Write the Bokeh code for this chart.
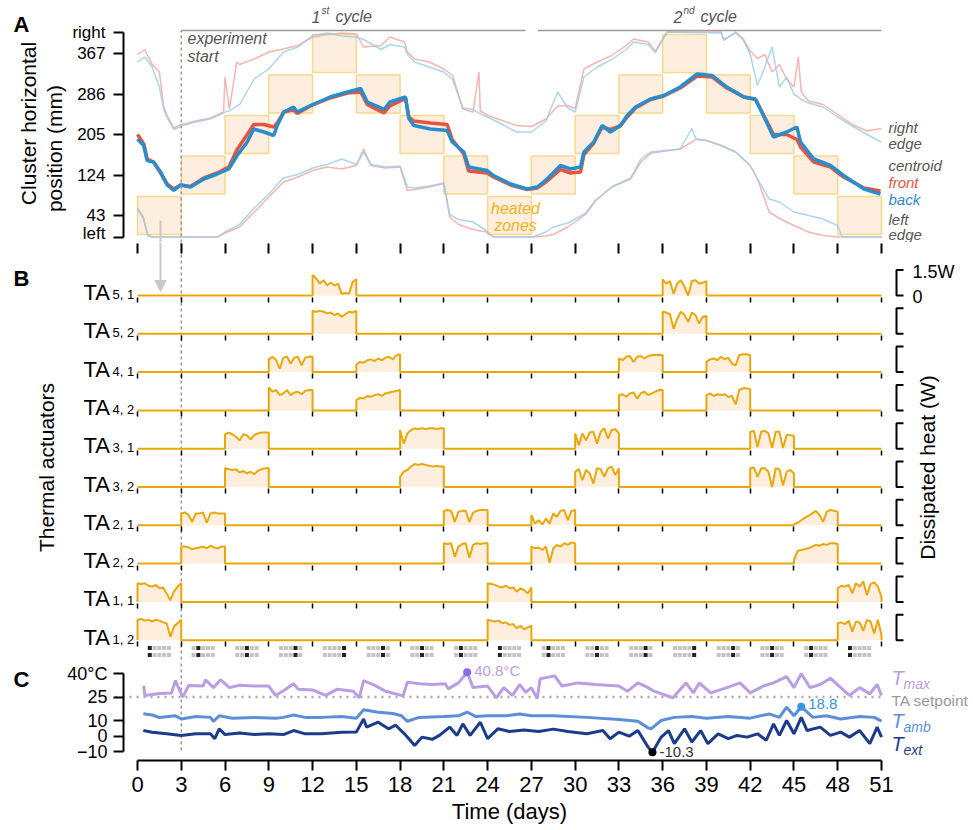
import numpy as np
from bokeh.plotting import figure
from bokeh.layouts import column
from bokeh.models import Range1d, Label, Arrow, NormalHead, FixedTicker, LinearAxis
from bokeh.embed import file_html
from bokeh.resources import INLINE

FONT = "Liberation Sans"

# ---------------------------------------------------------------- data
DAY_TICKS = list(range(0, 52, 3))
EXPERIMENT_START = 3
CYCLE_NUM = ["1", "2"]
CYCLE_SUFFIX = ["st", "nd"]
CYCLE_START = [3, 27.45]
CYCLE_END = [26.6, 51]
CYCLE_LEVEL = 413

# heated zone / active thermal actuator per 3-day interval
INTERVAL_START = list(range(0, 51, 3))
ACTIVE_TA = [1, 2, 3, 4, 5, 4, 3, 2, 1, 2, 3, 4, 5, 4, 3, 2, 1]

# Panel A
POS_TICKS = [0, 43, 124, 205, 286, 367, 410]
POS_TICK_LABELS = ["left", "43", "124", "205", "286", "367", "right"]
ZONE_CENTER = [43, 124, 205, 286, 367]
ZONE_HALF = 38

CEN_DAY = [0, 0.43, 0.66, 1.1, 1.58, 2.03, 2.49, 2.95, 3.63, 4.55, 5.46, 6.26, 6.83, 7.52, 7.97,
           8.66, 9.34, 9.58, 10.03, 10.7, 10.95, 11.86, 13.2, 14.4, 15.3, 15.75, 16.4, 16.9, 17.3,
           18.37, 18.6, 18.94, 20.08, 21.23, 21.57, 22.37, 22.7, 23.97, 24.4, 25.57, 26.71, 27.4,
           28.08, 28.99, 29.68, 30.37, 30.6, 31.28, 31.85, 32.42, 33.1, 33.57, 34.14, 35.17, 36.08,
           37.2, 38.37, 39.4, 40.4, 41.56, 42.36, 42.9, 43.6, 44.5, 45.2, 45.45, 46.36, 47.5, 48.4,
           49.8, 50.93]
CEN_BACK = [196, 183, 153, 150, 130, 104, 93, 104, 100, 116, 126, 136, 163, 190, 216,
            210, 203, 223, 250, 260, 250, 263, 280, 290, 297, 270, 262, 255, 270,
            280, 237, 223, 216, 213, 190, 170, 140, 133, 123, 106, 96, 100,
            116, 143, 136, 140, 170, 190, 223, 210, 223, 243, 260, 276, 283,
            300, 326, 323, 300, 280, 276, 243, 200, 210, 220, 190, 156, 143, 123,
            96, 86]
CEN_FRONT = [205, 186, 156, 150, 128, 106, 96, 104, 101, 118, 128, 140, 175, 205, 225,
             225, 220, 228, 250, 255, 247, 262, 278, 288, 290, 265, 255, 248, 262,
             277, 240, 232, 228, 225, 195, 166, 132, 128, 120, 104, 95, 98,
             112, 135, 128, 130, 165, 188, 220, 215, 222, 240, 258, 275, 282,
             298, 322, 320, 298, 280, 275, 245, 205, 205, 195, 180, 150, 140, 120,
             98, 92]

RE_DAY = [0, 0.5, 1.0, 1.5, 1.8, 2.0, 2.5, 3.0, 4.0, 5.0, 5.9, 6.0, 6.3, 6.8, 7.0, 8.0, 9.0,
          10.0, 11.0, 12.0, 13.0, 14.0, 15.0, 15.5, 16.7, 17.3, 18.3, 18.5, 19.0, 20.0, 21.0,
          21.6, 22.3, 23.0, 23.4, 23.5, 24.0, 25.0, 26.0, 27.0, 28.0, 28.8, 29.5, 30.0, 30.6,
          31.5, 32.5, 33.5, 34.0, 35.0, 35.5, 36.0, 36.3, 40.0, 40.2, 41.0, 41.5, 42.0, 42.5,
          43.0, 43.5, 44.0, 44.5, 45.0, 45.3, 45.5, 46.0, 47.0, 48.0, 49.0, 50.0, 51.0]
RE_FRONT = [365, 375, 345, 330, 260, 245, 218, 225, 232, 238, 250, 320, 255, 350, 345, 356, 370,
            376, 383, 400, 405, 408, 406, 380, 383, 400, 390, 370, 356, 350, 336,
            323, 256, 250, 330, 252, 243, 233, 223, 221, 236, 262, 263, 257, 336,
            350, 363, 383, 396, 390, 372, 396, 410, 410, 393, 410, 397, 372, 357,
            365, 330, 345, 316, 300, 360, 290, 272, 265, 245, 225, 212, 217]
RE_BACK = [350, 360, 340, 300, 255, 240, 215, 222, 230, 236, 248, 250, 252, 262, 265, 316, 336,
           370, 380, 403, 408, 402, 400, 395, 375, 385, 380, 365, 350, 340, 330,
           315, 258, 255, 248, 246, 240, 225, 210, 210, 232, 290, 258, 250, 320,
           340, 355, 375, 390, 385, 368, 395, 410, 408, 395, 408, 395, 365, 303,
           340, 380, 300, 320, 285, 280, 275, 268, 260, 240, 222, 205, 190]

LE_DAY = [0, 0.4, 0.7, 1.0, 5.5, 6.0, 7.0, 8.0, 9.0, 10.0, 11.0, 12.0, 13.0, 14.0, 15.0, 15.5,
          16.0, 17.0, 18.0, 18.5, 19.0, 20.0, 21.0, 21.4, 22.0, 23.0, 23.9, 24.4, 27.1, 28.0,
          28.5, 29.5, 30.7, 31.4, 32.5, 33.8, 34.5, 35.2, 36.2, 37.2, 38.0, 38.3, 39.0, 40.0,
          41.0, 42.0, 42.5, 43.3, 44.0, 45.0, 46.0, 47.0, 48.0, 48.3, 51.0]
LE_FRONT = [58, 40, 3, 0, 0, 8, 20, 50, 80, 110, 120, 133, 140, 136, 143, 176,
            143, 138, 140, 93, 95, 100, 107, 40, 25, 15, 10, 0, 0, 2,
            5, 20, 45, 73, 100, 116, 150, 168, 172, 176, 190, 196, 193, 183,
            170, 143, 116, 50, 37, 23, 10, 3, 0, 0, 0]
LE_BACK = [56, 37, 5, 0, 0, 10, 25, 58, 86, 118, 125, 138, 145, 156, 145, 170,
           145, 140, 142, 100, 98, 102, 108, 45, 35, 30, 13, 0, 0, 10,
           20, 28, 47, 73, 100, 118, 156, 170, 173, 176, 217, 195, 193, 183,
           170, 143, 116, 76, 70, 50, 43, 36, 23, 0, 0]

# Panel B : thermal actuators, power (W) sampled every 0.25 day over each 3-day heating period
TA_NAMES = [("5", "1"), ("5", "2"), ("4", "1"), ("4", "2"), ("3", "1"),
            ("3", "2"), ("2", "1"), ("2", "2"), ("1", "1"), ("1", "2")]
PERIOD_STEP = 0.25
POWER = [
    {12: [1.2, 1.0, 0.7, 0.9, 0.6, 0.75, 0.6, 0.7, 0.1, 0.15, 0.1, 0.8, 0.95],
     36: [0.95, 0.7, 0.85, 0.1, 0.7, 0.9, 0.5, 0.0, 0.85, 0.9, 0.7, 0.75, 0.85]},
    {12: [1.35, 1.3, 1.35, 1.3, 1.2, 1.25, 1.1, 1.2, 1.0, 1.15, 1.3, 1.25, 1.35],
     36: [1.3, 1.25, 1.15, 0.3, 0.9, 1.3, 1.1, 0.7, 1.25, 1.1, 0.6, 1.0, 1.05]},
    {9: [0.75, 0.9, 0.7, 0.2, 0.85, 0.9, 0.5, 0.85, 0.9, 0.4, 0.85, 0.9, 0.9],
     15: [0.45, 0.6, 0.55, 0.7, 0.75, 0.65, 0.8, 0.7, 0.85, 0.9, 0.75, 1.0, 1.05],
     33: [0.8, 0.7, 0.9, 0.95, 0.6, 0.9, 0.95, 0.8, 0.95, 1.0, 1.0, 1.0, 1.0],
     39: [0.6, 0.75, 0.8, 0.7, 0.9, 0.75, 0.85, 0.5, 0.4, 1.0, 1.05, 1.05, 1.0]},
    {9: [1.35, 1.1, 1.2, 0.9, 1.0, 1.2, 0.9, 1.05, 1.1, 0.95, 1.15, 1.2, 1.2],
     15: [0.6, 0.75, 0.7, 0.85, 0.8, 0.9, 0.95, 0.85, 1.0, 1.05, 1.1, 1.15, 1.2],
     33: [0.9, 0.95, 0.8, 1.0, 1.05, 0.7, 1.0, 1.1, 0.9, 1.0, 1.1, 1.2, 1.2],
     39: [0.9, 1.0, 0.85, 0.95, 0.9, 0.95, 0.8, 0.85, 0.35, 1.2, 1.3, 1.3, 1.25]},
    {6: [0.85, 0.95, 0.85, 0.7, 0.5, 0.85, 0.8, 0.55, 0.8, 0.9, 0.95, 0.95, 0.95],
     18: [1.1, 0.3, 0.9, 1.1, 1.2, 1.15, 1.2, 1.15, 1.2, 1.2, 1.15, 1.2, 1.2],
     30: [0.9, 0.2, 0.9, 0.5, 0.95, 1.0, 0.3, 1.0, 1.2, 0.6, 1.1, 1.15, 0.9],
     42: [1.0, 1.05, 0.1, 1.0, 1.05, 0.9, 0.05, 1.0, 1.0, 0.05, 0.8, 0.8, 0.75]},
    {6: [1.1, 1.05, 1.0, 1.05, 0.85, 0.95, 0.8, 0.9, 0.75, 0.95, 1.05, 1.1, 1.1],
     18: [0.6, 0.9, 1.0, 1.2, 1.35, 1.3, 1.35, 1.3, 1.25, 1.2, 1.25, 1.2, 1.2],
     30: [0.9, 1.05, 0.4, 1.0, 0.8, 0.2, 1.1, 1.05, 0.6, 1.1, 1.2, 0.7, 1.1],
     42: [1.1, 1.15, 0.6, 1.1, 1.1, 0.9, 0.0, 1.1, 1.05, 0.1, 0.9, 1.0, 0.8]},
    {3: [0.7, 0.75, 0.6, 0.2, 0.7, 0.7, 0.75, 0.15, 0.7, 0.75, 0.7, 0.7, 0.7],
     21: [0.85, 0.9, 0.85, 0.2, 0.8, 0.85, 0.85, 0.2, 0.75, 0.85, 0.9, 0.9, 0.9],
     27: [0.6, 0.1, 0.3, 0.05, 0.4, 0.1, 0.7, 0.5, 0.85, 0.9, 0.3, 0.85, 0.9],
     45: [0.05, 0.15, 0.3, 0.45, 0.55, 0.7, 0.85, 0.6, 0.2, 0.8, 0.9, 0.85, 0.8]},
    {3: [1.0, 1.0, 0.95, 0.85, 0.9, 0.95, 1.0, 0.9, 1.05, 0.95, 0.9, 1.0, 1.0],
     21: [1.2, 1.15, 1.2, 0.4, 1.0, 1.15, 1.2, 0.35, 1.1, 1.2, 1.15, 1.2, 1.2],
     27: [1.0, 0.9, 0.95, 0.8, 1.0, 0.05, 0.9, 1.1, 1.0, 1.2, 1.1, 1.25, 1.2],
     45: [0.2, 0.75, 0.8, 0.85, 0.9, 1.0, 1.1, 1.05, 1.15, 1.1, 1.2, 1.2, 1.15]},
    {0: [1.1, 1.05, 1.1, 0.95, 0.9, 1.0, 0.8, 0.85, 0.5, 0.1, 0.6, 0.9, 1.1],
     24: [1.1, 1.05, 1.0, 0.9, 0.85, 0.95, 0.8, 0.85, 0.6, 0.8, 0.7, 0.5, 0.85],
     48: [0.8, 0.95, 0.9, 1.0, 0.5, 1.1, 0.9, 1.2, 0.4, 1.05, 1.15, 0.9, 0.3]},
    {0: [1.2, 1.25, 1.15, 1.2, 1.1, 1.2, 1.15, 1.05, 1.0, 0.2, 0.8, 1.0, 1.2],
     24: [1.2, 1.15, 1.1, 1.15, 1.0, 1.05, 0.9, 0.95, 0.7, 0.85, 0.65, 0.75, 0.85],
     48: [1.0, 1.05, 0.95, 1.15, 0.5, 1.1, 1.05, 0.55, 1.2, 1.1, 0.4, 1.2, 0.3]},
]
SCALE_W = 1.5

# Panel C : temperatures (deg C)
T_TICKS = [-10, 0, 10, 25, 40]
SETPOINT = 25
TMAX_DAY = [0.43, 0.5, 1.5, 2.33, 2.6, 3.1, 3.5, 4.5, 4.66, 5.2, 5.7, 6.3, 7.0, 8.0, 9.0, 9.46,
            10.0, 10.7, 11.0, 12.0, 12.9, 13.7, 14.8, 15.2, 15.5, 16.3, 17.0, 18.2, 18.5, 19.3,
            20.2, 21.1, 21.3, 22.0, 22.6, 23.0, 24.0, 24.6, 25.1, 25.7, 26.2, 26.6, 27.0, 27.4,
            27.6, 28.6, 29.1, 30.2, 31.4, 33.0, 33.6, 34.3, 35.0, 35.4, 36.7, 37.6, 38.1, 38.5,
            39.3, 40.4, 41.3, 42.0, 42.9, 43.6, 44.5, 45.0, 45.5, 46.1, 46.8, 47.5, 48.2, 48.8,
            49.5, 50.2, 50.7, 51.0]
TMAX = [32.3, 26, 27.2, 27.5, 35.5, 24.9, 32.3, 32, 36, 31, 36, 31, 32.5, 32, 32, 26,
        29, 33.5, 30, 29.5, 26, 30, 28.7, 24.5, 35.5, 32.3, 28.7, 25.7, 34.5, 33.4,
        33, 33.4, 30.2, 34, 40.8, 31, 32, 24.5, 31, 26, 33, 28, 31, 24,
        36.6, 38.5, 32, 34, 33, 32, 28.7, 34, 31, 28.7, 24.5, 34, 27.6, 34,
        27.6, 31, 34, 27.6, 32, 34, 38, 31, 40, 31, 33, 37, 31, 26,
        31, 27, 33, 26]
TAMB_DAY = [0.4, 1.0, 1.5, 2.6, 3.0, 4.0, 5.0, 5.2, 5.6, 6.5, 8.0, 9.5, 10.0, 10.7, 11.5, 12.6,
            14.0, 15.0, 15.5, 16.5, 17.5, 18.1, 18.5, 19.3, 21.0, 22.0, 22.6, 23.2, 24.0, 25.3,
            26.2, 27.0, 28.5, 30.8, 33.0, 34.3, 35.0, 35.2, 35.9, 36.8, 38.0, 39.0, 40.5, 42.0,
            43.3, 44.0, 44.5, 45.0, 45.5, 46.3, 47.2, 48.2, 49.5, 50.5, 51.0]
TAMB = [14.3, 13.5, 11.9, 13, 11, 12.5, 12, 9.5, 13, 11.5, 12, 11.5, 12, 13.5, 12, 12,
        12.5, 11.5, 16.8, 15.3, 14.5, 13, 9.5, 12, 12.5, 13, 15.3, 12.5, 13, 13,
        14.2, 13, 13, 12, 10.7, 9.6, 5.3, 4.7, 10, 12, 12.5, 11.5, 12.5, 11.5,
        14.2, 12, 18.5, 13, 18.8, 12, 13, 11, 12.5, 12, 9.6]
TEXT_DAY = [0.4, 1.0, 2.0, 3.0, 4.0, 5.0, 5.3, 5.6, 6.0, 7.0, 8.0, 9.0, 10.0, 10.7, 11.5, 12.6,
            14.0, 15.0, 15.5, 15.7, 16.5, 17.2, 17.7, 18.3, 19.0, 19.5, 20.2, 20.7, 21.4, 21.9,
            22.3, 22.8, 23.5, 24.0, 24.7, 25.5, 26.5, 27.5, 28.5, 29.5, 30.8, 31.9, 32.4, 33.0,
            33.7, 34.3, 35.0, 35.3, 35.9, 36.4, 36.8, 37.5, 38.0, 38.6, 39.1, 39.8, 40.5, 41.1,
            41.8, 42.5, 43.1, 43.6, 44.0, 44.5, 45.0, 45.5, 45.9, 46.8, 47.5, 48.2, 48.8, 49.5,
            50.2, 50.7, 51.0]
TEXT = [3.6, 2.5, 1.5, 0.5, 1.5, 1.5, -1.6, 4.7, 1, 2, 1, 1.5, 1, 3.6, 1.5, 1.5,
        2.5, 2.6, 11, 5.8, 8.9, 4.7, 7, 1.5, -6, -0.6, -2, 0.5, 5.8, 0.5,
        7.9, 0.5, 8.9, -1.6, 4.7, 3, 4, 3, 4.5, 3, 1.5, 3.6, -1.6, 2.6,
        0, 3.6, -7, -10.3, -0.6, 3.6, -4.8, 4.7, -3.7, 3.6, -4.8, 1.5, -1.6, 0.5,
        -0.6, 1.5, -2.6, 7.9, 0.5, 10, 1.5, 12, 3.6, 5.8, 0.5, 2.6, -0.6, 3.6,
        -4.8, 5.8, -0.6]
MARK_DAY = [22.6, 45.5, 35.3]
MARK_VAL = [40.8, 18.8, -10.3]
MARK_TEXT = ["40.8\u00b0C", "18.8", "-10.3"]

# ---------------------------------------------------------------- styles / geometry
C_FRONT, C_BACK = "#e8533f", "#2a8dcb"
C_FRONT_L, C_BACK_L = "#f4a39c", "#98cce9"
C_ZONE_F, C_ZONE_L = "#fdebd9", "#f8d98a"
C_TA, C_TA_F = "#e9a70a", "#fdeedd"
C_TMAX, C_TAMB, C_TEXT = "#b99ee3", "#5b90d8", "#1b3c8a"
C_GREY = "#999999"

PX_PER_DAY = 744 / 51.0
W = 973
AXIS_PX = 123          # x pixel of the y-axis spines


def dx(px):  # pixel x -> day
    return (px - 137) / PX_PER_DAY


def ay(py):  # pixel y -> panel A value
    return 43 + (215 - py) * 2.0


B_PX_PER_W = 17.0
ROW_GAP = 38.3 / B_PX_PER_W


def by(py):  # pixel y -> panel B value (row 0 baseline = 0)
    return (295 - py) / B_PX_PER_W


C_PX = 1.567


def cy(py):  # pixel y -> panel C value
    return 40 - (py - 673) / C_PX


A_TOP, A_BOT, B_BOT, C_BOT = 0, 242, 663, 828


def new_fig(height, y_range):
    p = figure(width=W, height=height, x_range=Range1d(dx(0), dx(W)), y_range=y_range,
               output_backend="svg", toolbar_location=None,
               min_border_left=0, min_border_right=0, min_border_top=0, min_border_bottom=0,
               x_axis_location=None, y_axis_location=None)
    p.outline_line_color = None
    p.grid.visible = False
    p.background_fill_color = "white"
    p.border_fill_color = "white"
    return p


def make_axis(ticks, loc, size="17px", tick_out=10, tick_w=2, line=True, labels=True, bounds=None):
    ax = LinearAxis(ticker=FixedTicker(ticks=ticks), fixed_location=loc)
    ax.axis_line_width = 2
    ax.axis_line_color = "black" if line else None
    ax.major_tick_line_width = tick_w
    ax.major_tick_line_color = "black"
    ax.major_tick_out = tick_out
    ax.major_tick_in = 0
    ax.minor_tick_line_color = None
    ax.major_label_text_font = FONT
    ax.major_label_text_font_size = size
    ax.major_label_text_color = "black" if labels else None
    if bounds is not None:
        ax.bounds = bounds
    return ax


def lbl(p, x, y, s, size, color="black", style="normal", align="left", baseline="middle", angle=0.0):
    p.add_layout(Label(x=x, y=y, text=s, text_font=FONT, text_font_size=size,
                       text_font_style=style, text_color=color, text_align=align,
                       text_baseline=baseline, angle=angle))


# ---------------------------------------------------------------- panel A
pA = new_fig(A_BOT - A_TOP, Range1d(ay(A_BOT), ay(A_TOP)))
ya = make_axis(POS_TICKS, dx(AXIS_PX), "17px", bounds=(POS_TICKS[0], POS_TICKS[-1]))
ya.major_label_overrides = {t: l for t, l in zip(POS_TICKS, POS_TICK_LABELS)}
ya.major_label_standoff = 8
pA.add_layout(ya, "left")

zl = INTERVAL_START
zr = [s + 3 for s in INTERVAL_START]
zb = [ZONE_CENTER[k - 1] - ZONE_HALF for k in ACTIVE_TA]
zt = [ZONE_CENTER[k - 1] + ZONE_HALF for k in ACTIVE_TA]
pA.quad(left=zl, right=zr, bottom=zb, top=zt, fill_color=C_ZONE_F, fill_alpha=0.85,
        line_color=C_ZONE_L, line_width=1.5)

pA.line(RE_DAY, RE_FRONT, line_color=C_FRONT_L, line_width=1.5, line_alpha=0.8)
pA.line(RE_DAY, RE_BACK, line_color=C_BACK_L, line_width=1.5, line_alpha=0.8)
pA.line(LE_DAY, LE_FRONT, line_color=C_FRONT_L, line_width=1.5, line_alpha=0.8)
pA.line(LE_DAY, LE_BACK, line_color=C_BACK_L, line_width=1.5, line_alpha=0.8)
pA.line(CEN_DAY, CEN_FRONT, line_color=C_FRONT, line_width=3.5)
pA.line(CEN_DAY, CEN_BACK, line_color=C_BACK, line_width=3.5)

pA.segment(x0=[EXPERIMENT_START], y0=[ay(A_BOT)], x1=[EXPERIMENT_START], y1=[CYCLE_LEVEL],
           line_color=C_GREY, line_width=1.5, line_dash="3 3")
pA.segment(x0=CYCLE_START, y0=[CYCLE_LEVEL] * 2, x1=CYCLE_END, y1=[CYCLE_LEVEL] * 2,
           line_color="#9a9a9a", line_width=1.5)
arrow_day = dx(160)
pA.segment(x0=[arrow_day], y0=[ay(220)], x1=[arrow_day], y1=[ay(A_BOT)], line_color="#c8c8c8", line_width=2)

# cycle headers
for num, suf, nx, cx in zip(CYCLE_NUM, CYCLE_SUFFIX, [dx(320), dx(682)], [dx(335), dx(700)]):
    lbl(pA, nx, ay(16), num, "16px", "#555", "italic", align="right")
    lbl(pA, nx + 1 / PX_PER_DAY, ay(10), suf, "10px", "#555", "italic")
    lbl(pA, cx, ay(16), "cycle", "16px", "#555", "italic")

lbl(pA, dx(187), ay(38), "experiment", "16px", "#555", "italic")
lbl(pA, dx(187), ay(56), "start", "16px", "#555", "italic")
lbl(pA, dx(515), ay(208), "heated", "16px", "#f2b21b", "italic", align="center")
lbl(pA, dx(515), ay(225), "zones", "16px", "#f2b21b", "italic", align="center")
for txt, py, col in [("right", 127, "#555"), ("edge", 143, "#555"), ("centroid", 165, "#555"),
                     ("front", 182, C_FRONT), ("back", 199, C_BACK), ("left", 219, "#555"),
                     ("edge", 233.5, "#555")]:
    lbl(pA, dx(888), ay(py), txt, "15px", col, "italic")
lbl(pA, dx(13), ay(24), "A", "22px", style="bold")
lbl(pA, dx(28), ay(123), "Cluster horizontal", "21px", align="center", angle=np.pi / 2)
lbl(pA, dx(54), ay(148), "position (mm)", "21px", align="center", angle=np.pi / 2)

# ---------------------------------------------------------------- panel B
pB = new_fig(B_BOT - A_BOT, Range1d(by(B_BOT), by(A_BOT)))

# tick marks of panel A's time axis
pB.add_layout(make_axis(DAY_TICKS, by(243), tick_out=10, tick_w=2, line=False, labels=False), "below")
pB.segment(x0=[EXPERIMENT_START], y0=[by(A_BOT)], x1=[EXPERIMENT_START], y1=[by(B_BOT)],
           line_color=C_GREY, line_width=1.5, line_dash="3 3")

for k, (name, periods) in enumerate(zip(TA_NAMES, POWER)):
    base = -k * ROW_GAP
    xs, ys = [], []
    starts = sorted(periods)
    if starts[0] > 0:
        xs.append(0.0); ys.append(0.0)
    for s in starts:
        vals = periods[s]
        xs.append(s); ys.append(0.0)
        for i, v in enumerate(vals):
            xs.append(s + i * PERIOD_STEP); ys.append(v)
        xs.append(s + (len(vals) - 1) * PERIOD_STEP); ys.append(0.0)
    if xs[-1] < 51:
        xs.append(51.0); ys.append(0.0)
    xs = np.array(xs); ys = np.array(ys) + base
    pB.varea(x=xs, y1=np.full(len(xs), base), y2=ys, fill_color=C_TA_F)
    pB.line(xs, ys, line_color=C_TA, line_width=2)
    # small time ticks under each row
    pB.add_layout(make_axis(DAY_TICKS, base - 1.5 / B_PX_PER_W, tick_out=5, tick_w=1.5,
                            line=False, labels=False), "below")
    # scale bracket
    bx0, bx1 = dx(896), dx(903)
    pB.multi_line(xs=[[bx1, bx0, bx0, bx1]], ys=[[base + SCALE_W, base + SCALE_W, base, base]],
                  line_color="black", line_width=2)
    # labels
    lbl(pB, dx(83), base + by(292), "TA", "22px", baseline="alphabetic")
    lbl(pB, dx(112), base + by(294), name[0] + ", " + name[1], "13px", baseline="alphabetic")

lbl(pB, dx(912), by(271), "%gW" % SCALE_W, "18px")
lbl(pB, dx(912), by(296), "0", "18px")
lbl(pB, dx(927), by(467), "Dissipated heat (W)", "21px", align="center", angle=np.pi / 2)
lbl(pB, dx(46), by(467), "Thermal actuators", "21px", align="center", angle=np.pi / 2)
lbl(pB, dx(13), by(278), "B", "22px", style="bold")

pB.add_layout(Arrow(end=NormalHead(size=11, fill_color="#c8c8c8", line_color="#c8c8c8"),
                    x_start=arrow_day, y_start=by(A_BOT), x_end=arrow_day, y_end=by(291),
                    line_color="#c8c8c8", line_width=2))

# activity icons
icon_x, icon_y, icon_c = [], [], []
for s, act in zip(INTERVAL_START, ACTIVE_TA):
    for c in range(1, 6):
        for py in (647.5, 654.5):
            icon_x.append(s + 1.5 + (c - 3) * 4.8 / PX_PER_DAY)
            icon_y.append(by(py))
            icon_c.append("#222222" if c == act else "#c4c4c4")
pB.scatter(icon_x, icon_y, marker="square", size=4, fill_color=icon_c, line_color=None)

# ---------------------------------------------------------------- panel C
pC = new_fig(C_BOT - B_BOT, Range1d(cy(C_BOT), cy(B_BOT)))
xa = make_axis(DAY_TICKS, cy(760), "22px", bounds=(DAY_TICKS[0], DAY_TICKS[-1]))
xa.major_label_standoff = 6
pC.add_layout(xa, "below")
yc = make_axis(T_TICKS, dx(AXIS_PX), "18px", bounds=(T_TICKS[0], T_TICKS[-1]))
yc.major_label_overrides = {40: "40\u00b0C"}
yc.major_label_standoff = 6
pC.add_layout(yc, "left")

pC.segment(x0=[EXPERIMENT_START], y0=[cy(B_BOT)], x1=[EXPERIMENT_START], y1=[T_TICKS[0]],
           line_color=C_GREY, line_width=1.5, line_dash="3 3")
pC.line([dx(115), 51], [SETPOINT, SETPOINT], line_color="#aaaaaa", line_width=2.5, line_dash="2 5")
pC.line(TMAX_DAY, TMAX, line_color=C_TMAX, line_width=3)
pC.line(TAMB_DAY, TAMB, line_color=C_TAMB, line_width=3)
pC.line(TEXT_DAY, TEXT, line_color=C_TEXT, line_width=3)
mark_cols = ["#8a6cf0", "#3a93e0", "#000000"]
pC.scatter(MARK_DAY, MARK_VAL, size=8, fill_color=mark_cols, line_color=None)
txt_cols = ["#b99ee3", "#3a93e0", "#333333"]
for d, v, t, col, dy in zip(MARK_DAY, MARK_VAL, MARK_TEXT, txt_cols, [1.3, 2.0, 0.0]):
    lbl(pC, d + 7 / PX_PER_DAY, v + dy, t, "15px", col)

lbl(pC, dx(891), cy(677), "T", "20px", C_TMAX, "italic")
lbl(pC, dx(903), cy(683), "max", "14px", C_TMAX, "italic")
lbl(pC, dx(891), cy(700), "TA setpoint", "15.5px", "#999999")
lbl(pC, dx(891), cy(720), "T", "20px", C_TAMB, "italic")
lbl(pC, dx(903), cy(726), "amb", "14px", C_TAMB, "italic")
lbl(pC, dx(891), cy(743), "T", "20px", C_TEXT, "italic")
lbl(pC, dx(903), cy(749), "ext", "14px", C_TEXT, "italic")
lbl(pC, dx(13), cy(679), "C", "22px", style="bold")
lbl(pC, 25.5, cy(811), "Time (days)", "22px", align="center")

layout = column(pA, pB, pC, spacing=0)
open("out.html", "w").write(file_html(layout, INLINE))
